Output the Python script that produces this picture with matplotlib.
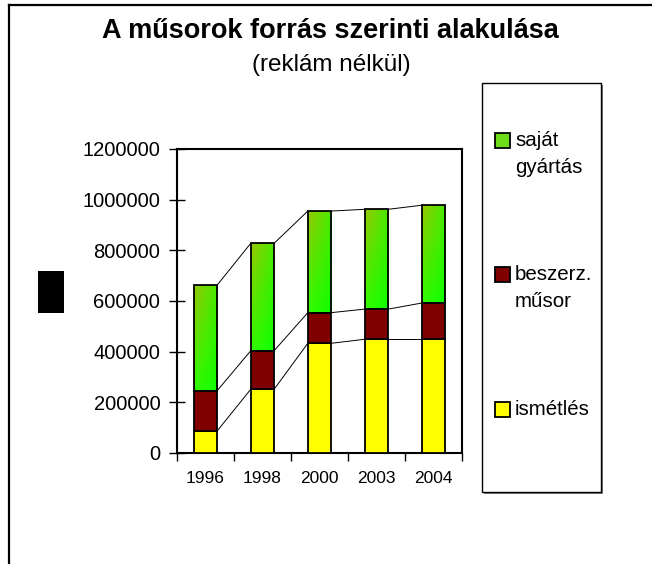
import numpy as np
import matplotlib
matplotlib.use("Agg")
import matplotlib.pyplot as plt
from matplotlib.patches import Rectangle
from matplotlib.lines import Line2D

years = ['1996', '1998', '2000', '2003', '2004']
ismetles = [87000, 252000, 433000, 449000, 449000]
beszerz = [159000, 152000, 121000, 119000, 143000]
sajat = [417000, 424000, 401000, 394000, 386000]
series_names = ['saját\ngyártás', 'beszerz.\nműsor', 'ismétlés']
yticks = [0, 200000, 400000, 600000, 800000, 1000000, 1200000]

plt.rcParams['font.family'] = ['Liberation Sans', 'DejaVu Sans']

W, H = 652, 564
fig = plt.figure(figsize=(W / 100, H / 100), dpi=100)

def fx(x):
    return x / W

def fy(y):
    return 1 - y / H

ax = fig.add_axes([fx(177), fy(453), fx(462) - fx(177), fy(149) - fy(453)])

x = np.arange(len(years))
bw = 0.41
yellow = '#FFFF00'
red = '#800000'

# gradient image for green segments
tl = np.array([150, 200, 0]) / 255
tr = np.array([70, 235, 0]) / 255
bl = np.array([50, 250, 0]) / 255
br = np.array([15, 255, 0]) / 255
u = np.linspace(0, 1, 40)[None, :, None]
v = np.linspace(0, 1, 80)[:, None, None]
grad = (1 - v) * ((1 - u) * tl + u * tr) + v * ((1 - u) * bl + u * br)

b1 = np.array(ismetles)
b2 = b1 + np.array(beszerz)
b3 = b2 + np.array(sajat)

ax.bar(x, ismetles, width=bw, color=yellow, edgecolor='black', linewidth=1.3, zorder=3)
ax.bar(x, beszerz, width=bw, bottom=b1, color=red, edgecolor='black', linewidth=1.3, zorder=3)
for i in range(len(years)):
    ax.imshow(grad, extent=(x[i] - bw / 2, x[i] + bw / 2, b2[i], b3[i]),
              aspect='auto', origin='upper', zorder=2, interpolation='bilinear')
ax.bar(x, sajat, width=bw, bottom=b2, color='none', edgecolor='black', linewidth=1.3, zorder=3)

# series lines between bars
for tops in (b1, b2, b3):
    for i in range(len(years) - 1):
        ax.plot([x[i] + bw / 2, x[i + 1] - bw / 2], [tops[i], tops[i + 1]],
                color='black', linewidth=0.7, zorder=2)

ax.set_xlim(-0.5, len(years) - 0.5)
ax.set_ylim(0, 1200000)
ax.set_yticks(yticks)
ax.set_yticklabels([str(t) for t in yticks], fontsize=14.5)
ax.set_xticks(np.arange(len(years) + 1) - 0.5)
ax.set_xticklabels([])
ax.set_xticks(x, minor=True)
ax.set_xticklabels(years, minor=True, fontsize=12.5)
ax.tick_params(axis='x', which='major', direction='out', length=6, width=1)
ax.tick_params(axis='x', which='minor', length=0, pad=13)
ax.tick_params(axis='y', direction='inout', length=12, width=1, pad=6)
for s in ax.spines.values():
    s.set_linewidth(1.5)
    s.set_color('black')

# title
fig.text(fx(330), fy(31), 'A műsorok forrás szerinti alakulása', ha='center', va='center',
         fontsize=19.5, fontweight='bold')
fig.text(fx(331), fy(65), '(reklám nélkül)', ha='center', va='center', fontsize=17.5)

# outer frame lines
fig.add_artist(Line2D([fx(9), fx(9)], [fy(5), 0], transform=fig.transFigure, color='black', linewidth=1.6))
fig.add_artist(Line2D([fx(9), 1], [fy(5), fy(5)], transform=fig.transFigure, color='black', linewidth=1.6))

# black rectangle
fig.add_artist(Rectangle((fx(38), fy(313)), fx(64) - fx(38), fy(271) - fy(313),
                         transform=fig.transFigure, facecolor='black', edgecolor='none'))

# legend box with shadow
fig.add_artist(Rectangle((fx(484), fy(494)), fx(603) - fx(484), fy(85) - fy(494),
                         transform=fig.transFigure, facecolor='#808080', edgecolor='none'))
fig.add_artist(Rectangle((fx(482), fy(492)), fx(601) - fx(482), fy(83) - fy(492),
                         transform=fig.transFigure, facecolor='white', edgecolor='black', linewidth=1))

leg_y = [140.5, 274.5, 409.5]
leg_colors = [(0.42, 0.86, 0.1), red, yellow]
for name, yc, col in zip(series_names, leg_y, leg_colors):
    fig.add_artist(Rectangle((fx(495), fy(yc + 7.5)), fx(15), 15 / H,
                             transform=fig.transFigure, facecolor=col,
                             edgecolor='black', linewidth=1.3))
    lines = name.split('\n')
    for k, ln in enumerate(lines):
        fig.text(fx(515), fy(yc + 27 * k), ln, ha='left', va='center', fontsize=14.8)

fig.savefig('out.png', dpi=100)
